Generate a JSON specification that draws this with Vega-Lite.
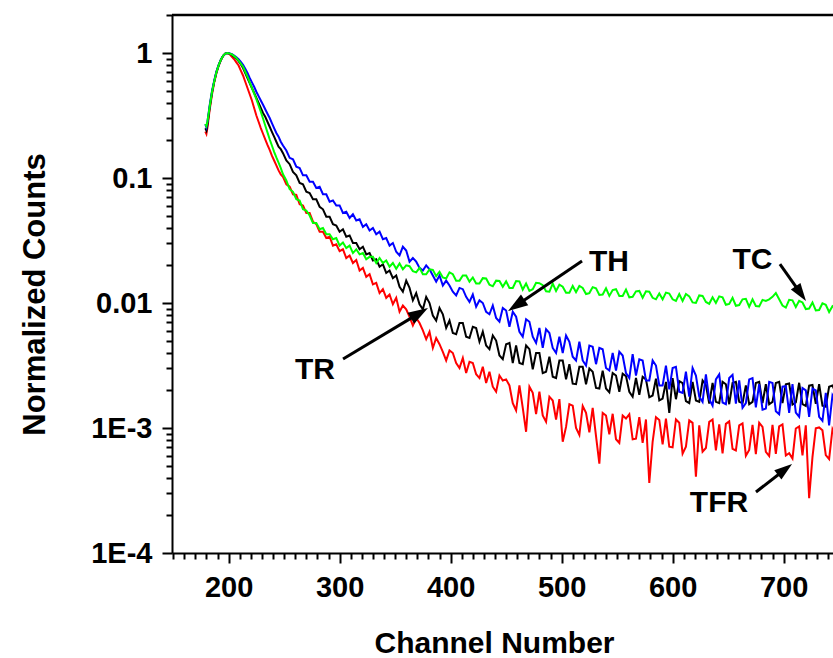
{
  "$schema": "https://vega.github.io/schema/vega-lite/v6.json",
  "width": 661,
  "height": 538,
  "autosize": {"type": "none"},
  "padding": {"left": 172, "top": 15, "right": 0, "bottom": 105},
  "background": "white",
  "config": {"view": {"stroke": null}},
  "datasets": {
    "curves": [
      {"c":179,"R":0.235,"B":0.27,"G":0.27,"K":0.25},
      {"c":180,"R":0.225,"B":0.255,"G":0.26,"K":0.24},
      {"c":181,"R":0.255,"B":0.285,"G":0.285,"K":0.27},
      {"c":183,"R":0.355,"B":0.385,"G":0.375,"K":0.37},
      {"c":185,"R":0.465,"B":0.495,"G":0.485,"K":0.48},
      {"c":187,"R":0.58,"B":0.6,"G":0.59,"K":0.59},
      {"c":189,"R":0.69,"B":0.71,"G":0.7,"K":0.7},
      {"c":191,"R":0.79,"B":0.8,"G":0.795,"K":0.795},
      {"c":193,"R":0.875,"B":0.885,"G":0.88,"K":0.88},
      {"c":195,"R":0.945,"B":0.95,"G":0.95,"K":0.95},
      {"c":197,"R":0.99,"B":0.99,"G":0.99,"K":0.99},
      {"c":199,"R":1,"B":1,"G":1,"K":1},
      {"c":201,"R":0.977,"B":0.993,"G":0.989,"K":0.989},
      {"c":203,"R":0.933,"B":0.977,"G":0.973,"K":0.966},
      {"c":205,"R":0.891,"B":0.955,"G":0.944,"K":0.933},
      {"c":207,"R":0.841,"B":0.923,"G":0.912,"K":0.902},
      {"c":209,"R":0.794,"B":0.891,"G":0.871,"K":0.861},
      {"c":211,"R":0.724,"B":0.851,"G":0.822,"K":0.813},
      {"c":213,"R":0.661,"B":0.804,"G":0.776,"K":0.759},
      {"c":215,"R":0.589,"B":0.75,"G":0.708,"K":0.692},
      {"c":217,"R":0.525,"B":0.692,"G":0.646,"K":0.631},
      {"c":219,"R":0.468,"B":0.631,"G":0.582,"K":0.575},
      {"c":221,"R":0.417,"B":0.582,"G":0.525,"K":0.525},
      {"c":223,"R":0.363,"B":0.537,"G":0.473,"K":0.479},
      {"c":225,"R":0.316,"B":0.49,"G":0.427,"K":0.437},
      {"c":227,"R":0.282,"B":0.452,"G":0.38,"K":0.398},
      {"c":229,"R":0.251,"B":0.417,"G":0.339,"K":0.363},
      {"c":231,"R":0.226,"B":0.385,"G":0.299,"K":0.331},
      {"c":233,"R":0.204,"B":0.355,"G":0.263,"K":0.309},
      {"c":235,"R":0.184,"B":0.327,"G":0.232,"K":0.282},
      {"c":237,"R":0.168,"B":0.302,"G":0.204,"K":0.257},
      {"c":239,"R":0.151,"B":0.275,"G":0.182,"K":0.234},
      {"c":241,"R":0.138,"B":0.251,"G":0.162,"K":0.214},
      {"c":243,"R":0.126,"B":0.229,"G":0.146,"K":0.195},
      {"c":245,"R":0.115,"B":0.214,"G":0.133,"K":0.178},
      {"c":247,"R":0.107,"B":0.195,"G":0.12,"K":0.17},
      {"c":249,"R":0.102,"B":0.182,"G":0.107,"K":0.158},
      {"c":252,"R":0.0891,"B":0.166,"G":0.0955,"K":0.138},
      {"c":255,"R":0.0851,"B":0.145,"G":0.0813,"K":0.129},
      {"c":258,"R":0.0741,"B":0.141,"G":0.0776,"K":0.112},
      {"c":261,"R":0.0733,"B":0.123,"G":0.0676,"K":0.105},
      {"c":264,"R":0.0617,"B":0.12,"G":0.0661,"K":0.0912},
      {"c":267,"R":0.0603,"B":0.105,"G":0.0562,"K":0.0891},
      {"c":270,"R":0.0525,"B":0.105,"G":0.055,"K":0.0776},
      {"c":273,"R":0.0525,"B":0.0933,"G":0.0501,"K":0.0759},
      {"c":276,"R":0.0447,"B":0.0933,"G":0.0437,"K":0.0676},
      {"c":279,"R":0.0427,"B":0.0832,"G":0.0437,"K":0.0676},
      {"c":282,"R":0.0372,"B":0.0851,"G":0.0389,"K":0.0589},
      {"c":285,"R":0.0372,"B":0.0741,"G":0.0398,"K":0.0562},
      {"c":288,"R":0.0331,"B":0.0741,"G":0.0355,"K":0.049},
      {"c":291,"R":0.0339,"B":0.0646,"G":0.0355,"K":0.049},
      {"c":294,"R":0.0288,"B":0.0661,"G":0.0324,"K":0.0427},
      {"c":297,"R":0.0295,"B":0.0603,"G":0.0331,"K":0.0417},
      {"c":300,"R":0.026,"B":0.0603,"G":0.0288,"K":0.0372},
      {"c":303,"R":0.0269,"B":0.0525,"G":0.0305,"K":0.0389},
      {"c":306,"R":0.0229,"B":0.0537,"G":0.0275,"K":0.0339},
      {"c":309,"R":0.024,"B":0.0479,"G":0.0288,"K":0.0347},
      {"c":312,"R":0.0209,"B":0.0513,"G":0.0251,"K":0.0302},
      {"c":315,"R":0.0221,"B":0.0457,"G":0.0269,"K":0.0302},
      {"c":318,"R":0.0182,"B":0.0468,"G":0.0245,"K":0.0269},
      {"c":321,"R":0.0191,"B":0.0407,"G":0.0251,"K":0.0282},
      {"c":324,"R":0.0162,"B":0.0427,"G":0.0224,"K":0.0245},
      {"c":327,"R":0.017,"B":0.038,"G":0.0234,"K":0.0251},
      {"c":330,"R":0.0141,"B":0.0398,"G":0.0234,"K":0.0219},
      {"c":333,"R":0.0145,"B":0.0355,"G":0.0209,"K":0.0224},
      {"c":336,"R":0.012,"B":0.0372,"G":0.0229,"K":0.0195},
      {"c":339,"R":0.0129,"B":0.0324,"G":0.0209,"K":0.0204},
      {"c":342,"R":0.011,"B":0.0331,"G":0.0219,"K":0.0174},
      {"c":345,"R":0.0117,"B":0.0288,"G":0.0195,"K":0.0182},
      {"c":348,"R":0.00977,"B":0.0302,"G":0.0209,"K":0.0158},
      {"c":351,"R":0.011,"B":0.0257,"G":0.0188,"K":0.0166},
      {"c":354,"R":0.00851,"B":0.024,"G":0.0207,"K":0.0135},
      {"c":357,"R":0.00955,"B":0.0282,"G":0.0186,"K":0.0123},
      {"c":360,"R":0.00891,"B":0.0263,"G":0.02,"K":0.0151},
      {"c":363,"R":0.00776,"B":0.0214,"G":0.0197,"K":0.0132},
      {"c":366,"R":0.00661,"B":0.0229,"G":0.018,"K":0.0105},
      {"c":369,"R":0.00759,"B":0.0214,"G":0.0176,"K":0.012},
      {"c":372,"R":0.00692,"B":0.0191,"G":0.0191,"K":0.00977},
      {"c":375,"R":0.00603,"B":0.0182,"G":0.017,"K":0.00891},
      {"c":378,"R":0.00513,"B":0.02,"G":0.017,"K":0.0112},
      {"c":381,"R":0.00589,"B":0.0186,"G":0.0186,"K":0.01},
      {"c":384,"R":0.00437,"B":0.0166,"G":0.0184,"K":0.00794},
      {"c":387,"R":0.00525,"B":0.0148,"G":0.0164,"K":0.00724},
      {"c":390,"R":0.00468,"B":0.0166,"G":0.0178,"K":0.00912},
      {"c":393,"R":0.00407,"B":0.0138,"G":0.016,"K":0.00813},
      {"c":396,"R":0.00347,"B":0.0151,"G":0.0157,"K":0.00631},
      {"c":399,"R":0.00417,"B":0.0138,"G":0.0176,"K":0.00724},
      {"c":402,"R":0.00398,"B":0.0123,"G":0.017,"K":0.00575},
      {"c":405,"R":0.00331,"B":0.0115,"G":0.0151,"K":0.00562},
      {"c":408,"R":0.00302,"B":0.0132,"G":0.0151,"K":0.00692},
      {"c":411,"R":0.00363,"B":0.0129,"G":0.0166,"K":0.00692},
      {"c":414,"R":0.00275,"B":0.0112,"G":0.0166,"K":0.00537},
      {"c":417,"R":0.00339,"B":0.0102,"G":0.0148,"K":0.00525},
      {"c":420,"R":0.00331,"B":0.0117,"G":0.016,"K":0.00646},
      {"c":423,"R":0.00269,"B":0.00933,"G":0.0143,"K":0.00631},
      {"c":426,"R":0.00251,"B":0.0105,"G":0.0143,"K":0.0049},
      {"c":429,"R":0.00309,"B":0.01,"G":0.0158,"K":0.00589},
      {"c":432,"R":0.00229,"B":0.00851,"G":0.0157,"K":0.00457},
      {"c":435,"R":0.00282,"B":0.00813,"G":0.014,"K":0.00427},
      {"c":438,"R":0.00214,"B":0.00955,"G":0.0136,"K":0.0055},
      {"c":441,"R":0.00195,"B":0.00759,"G":0.0151,"K":0.00501},
      {"c":444,"R":0.00263,"B":0.00708,"G":0.015,"K":0.0038},
      {"c":447,"R":0.0024,"B":0.00912,"G":0.0135,"K":0.00355},
      {"c":450,"R":0.00245,"B":0.00871,"G":0.0149,"K":0.00468},
      {"c":453,"R":0.00219,"B":0.00646,"G":0.0132,"K":0.00479},
      {"c":456,"R":0.00158,"B":0.00851,"G":0.0132,"K":0.00331},
      {"c":459,"R":0.00138,"B":0.00776,"G":0.015,"K":0.00457},
      {"c":462,"R":0.00219,"B":0.00589,"G":0.0149,"K":0.00331},
      {"c":465,"R":0.00145,"B":0.00537,"G":0.0128,"K":0.00324},
      {"c":468,"R":0.000933,"B":0.00741,"G":0.0143,"K":0.00457},
      {"c":471,"R":0.00214,"B":0.00708,"G":0.0125,"K":0.00427},
      {"c":474,"R":0.00191,"B":0.00537,"G":0.0129,"K":0.00295},
      {"c":477,"R":0.00129,"B":0.00479,"G":0.0145,"K":0.00398},
      {"c":480,"R":0.00195,"B":0.00631,"G":0.0144,"K":0.00398},
      {"c":483,"R":0.00126,"B":0.00437,"G":0.0139,"K":0.00275},
      {"c":486,"R":0.00112,"B":0.00617,"G":0.0124,"K":0.00282},
      {"c":489,"R":0.00178,"B":0.00575,"G":0.0123,"K":0.00372},
      {"c":492,"R":0.00166,"B":0.00437,"G":0.0143,"K":0.00257},
      {"c":495,"R":0.00117,"B":0.00398,"G":0.0125,"K":0.00251},
      {"c":498,"R":0.0017,"B":0.00537,"G":0.014,"K":0.00347},
      {"c":501,"R":0.000776,"B":0.00398,"G":0.0135,"K":0.00347},
      {"c":504,"R":0.00102,"B":0.0055,"G":0.0121,"K":0.00245},
      {"c":507,"R":0.00155,"B":0.0049,"G":0.0121,"K":0.00324},
      {"c":510,"R":0.00151,"B":0.00372,"G":0.0137,"K":0.00226},
      {"c":513,"R":0.001,"B":0.00347,"G":0.0122,"K":0.00224},
      {"c":516,"R":0.000881,"B":0.0049,"G":0.0137,"K":0.00309},
      {"c":519,"R":0.0015,"B":0.00347,"G":0.0132,"K":0.00309},
      {"c":522,"R":0.00132,"B":0.00316,"G":0.0118,"K":0.00224},
      {"c":525,"R":0.000923,"B":0.00457,"G":0.012,"K":0.00299},
      {"c":528,"R":0.00145,"B":0.00447,"G":0.0134,"K":0.00282},
      {"c":531,"R":0.000861,"B":0.00324,"G":0.0131,"K":0.00209},
      {"c":534,"R":0.000519,"B":0.00437,"G":0.0116,"K":0.00207},
      {"c":537,"R":0.00132,"B":0.00427,"G":0.0117,"K":0.00288},
      {"c":540,"R":0.00126,"B":0.00302,"G":0.0131,"K":0.00207},
      {"c":543,"R":0.000891,"B":0.00288,"G":0.0114,"K":0.00193},
      {"c":546,"R":0.0013,"B":0.00398,"G":0.0127,"K":0.00275},
      {"c":549,"R":0.000813,"B":0.00288,"G":0.0129,"K":0.00263},
      {"c":552,"R":0.000759,"B":0.00407,"G":0.0114,"K":0.00195},
      {"c":555,"R":0.00126,"B":0.0038,"G":0.0114,"K":0.00272},
      {"c":558,"R":0.00119,"B":0.00275,"G":0.0128,"K":0.0026},
      {"c":561,"R":0.00129,"B":0.00251,"G":0.0111,"K":0.00195},
      {"c":564,"R":0.000813,"B":0.00389,"G":0.0112,"K":0.00178},
      {"c":567,"R":0.000822,"B":0.00263,"G":0.0124,"K":0.00251},
      {"c":570,"R":0.00122,"B":0.00355,"G":0.0125,"K":0.00184},
      {"c":573,"R":0.000759,"B":0.00347,"G":0.011,"K":0.00257},
      {"c":576,"R":0.00117,"B":0.0024,"G":0.0124,"K":0.00245},
      {"c":579,"R":0.000363,"B":0.0024,"G":0.0123,"K":0.00176},
      {"c":582,"R":0.000776,"B":0.00347,"G":0.011,"K":0.00182},
      {"c":585,"R":0.00122,"B":0.00316,"G":0.0107,"K":0.00248},
      {"c":588,"R":0.00116,"B":0.00219,"G":0.0119,"K":0.00166},
      {"c":591,"R":0.000741,"B":0.00219,"G":0.0107,"K":0.00172},
      {"c":594,"R":0.00119,"B":0.00316,"G":0.0121,"K":0.00234},
      {"c":597,"R":0.000708,"B":0.00204,"G":0.0119,"K":0.00132},
      {"c":600,"R":0.0007,"B":0.00302,"G":0.0107,"K":0.00251},
      {"c":603,"R":0.00117,"B":0.00309,"G":0.0104,"K":0.0017},
      {"c":606,"R":0.0011,"B":0.00195,"G":0.0118,"K":0.00237},
      {"c":609,"R":0.000624,"B":0.00191,"G":0.0104,"K":0.00229},
      {"c":612,"R":0.000708,"B":0.00282,"G":0.0118,"K":0.00164},
      {"c":615,"R":0.00115,"B":0.00178,"G":0.0113,"K":0.00158},
      {"c":618,"R":0.0011,"B":0.00302,"G":0.0101,"K":0.00234},
      {"c":621,"R":0.000407,"B":0.00263,"G":0.01,"K":0.00166},
      {"c":624,"R":0.00105,"B":0.00178,"G":0.0115,"K":0.00162},
      {"c":627,"R":0.000646,"B":0.00162,"G":0.0114,"K":0.0024},
      {"c":630,"R":0.000692,"B":0.00269,"G":0.0102,"K":0.00221},
      {"c":633,"R":0.00112,"B":0.0017,"G":0.00986,"K":0.00157},
      {"c":636,"R":0.00117,"B":0.00151,"G":0.0111,"K":0.00229},
      {"c":639,"R":0.000661,"B":0.00245,"G":0.01,"K":0.00162},
      {"c":642,"R":0.00107,"B":0.00269,"G":0.0113,"K":0.00158},
      {"c":645,"R":0.000627,"B":0.0016,"G":0.0111,"K":0.00234},
      {"c":648,"R":0.00108,"B":0.00155,"G":0.00968,"K":0.00224},
      {"c":651,"R":0.00113,"B":0.00251,"G":0.00982,"K":0.00155},
      {"c":654,"R":0.000682,"B":0.00266,"G":0.011,"K":0.00229},
      {"c":657,"R":0.000662,"B":0.00157,"G":0.00951,"K":0.00234},
      {"c":660,"R":0.00105,"B":0.0024,"G":0.00964,"K":0.00162},
      {"c":663,"R":0.00109,"B":0.00145,"G":0.0107,"K":0.00158},
      {"c":666,"R":0.0006,"B":0.00158,"G":0.0108,"K":0.00219},
      {"c":669,"R":0.000668,"B":0.00245,"G":0.00933,"K":0.00155},
      {"c":672,"R":0.00106,"B":0.00251,"G":0.0107,"K":0.00162},
      {"c":675,"R":0.000619,"B":0.00146,"G":0.00946,"K":0.00229},
      {"c":678,"R":0.0011,"B":0.00224,"G":0.00938,"K":0.00234},
      {"c":681,"R":0.00102,"B":0.0014,"G":0.0106,"K":0.00158},
      {"c":684,"R":0.000644,"B":0.00143,"G":0.0104,"K":0.00224},
      {"c":687,"R":0.000597,"B":0.00234,"G":0.0107,"K":0.00155},
      {"c":690,"R":0.00106,"B":0.00229,"G":0.0112,"K":0.00162},
      {"c":693,"R":0.000621,"B":0.00136,"G":0.012,"K":0.00229},
      {"c":696,"R":0.00103,"B":0.00129,"G":0.0107,"K":0.00234},
      {"c":699,"R":0.00107,"B":0.00214,"G":0.00955,"K":0.00158},
      {"c":702,"R":0.000603,"B":0.00216,"G":0.0092,"K":0.00224},
      {"c":705,"R":0.000628,"B":0.00132,"G":0.0106,"K":0.00227},
      {"c":708,"R":0.000569,"B":0.00224,"G":0.0105,"K":0.00154},
      {"c":711,"R":0.000991,"B":0.00133,"G":0.00929,"K":0.0016},
      {"c":714,"R":0.00103,"B":0.00123,"G":0.0104,"K":0.0023},
      {"c":717,"R":0.000605,"B":0.00209,"G":0.0101,"K":0.00155},
      {"c":720,"R":0.00105,"B":0.002,"G":0.00895,"K":0.0015},
      {"c":723,"R":0.000275,"B":0.00123,"G":0.00904,"K":0.00218},
      {"c":726,"R":0.000585,"B":0.00207,"G":0.0101,"K":0.00221},
      {"c":729,"R":0.000995,"B":0.002,"G":0.00871,"K":0.00156},
      {"c":732,"R":0.00101,"B":0.00123,"G":0.00879,"K":0.00224},
      {"c":735,"R":0.000959,"B":0.00114,"G":0.00993,"K":0.00151},
      {"c":738,"R":0.000608,"B":0.00191,"G":0.00968,"K":0.00148},
      {"c":741,"R":0.000564,"B":0.00105,"G":0.00847,"K":0.00214},
      {"c":744,"R":0.000977,"B":0.00182,"G":0.00944,"K":0.00219},
      {"c":747,"R":0.00085,"B":0.0016,"G":0.009,"K":0.0019}
    ],
    "labels": [
      {"t":"TH","c":542.7,"v":0.01803},
      {"t":"TC","c":672,"v":0.0187},
      {"t":"TR","c":277.8,"v":0.002466},
      {"t":"TFR","c":641.8,"v":0.000213}
    ],
    "arrows": [
      {"name":"TH","c1":518.4,"v1":0.02168,"c2":459.2,"v2":0.00957},
      {"name":"TC","c1":696.7,"v1":0.0205,"c2":715.5,"v2":0.01189},
      {"name":"TR","c1":303.1,"v1":0.003565,"c2":371.9,"v2":0.0083},
      {"name":"TFR","c1":675.1,"v1":0.0003076,"c2":701.2,"v2":0.000466}
    ],
    "frame": [{"c":149,"v":2.014}]
  },
  "resolve": {"axis": {"x": "independent", "y": "independent"}},
  "layer": [
    {
      "data": {"name": "curves"},
      "mark": {"type": "line", "color": "#ff0000", "strokeWidth": 2, "clip": true},
      "encoding": {
        "x": {"field": "c", "type": "quantitative",
          "scale": {"domain": [149, 744.5], "nice": false, "zero": false},
          "axis": {"orient": "bottom", "values": [200, 300, 400, 500, 600, 700], "format": "d",
            "tickSize": 10, "tickWidth": 2, "tickColor": "#000", "domainColor": "#000", "domainWidth": 2,
            "labelFont": "Liberation Sans", "labelFontWeight": "bold", "labelFontSize": 29, "labelColor": "#000",
            "labelPadding": 10, "labelFlush": false, "labelOverlap": false, "grid": false,
            "title": "Channel Number", "titleFont": "Liberation Sans", "titleFontWeight": "bold",
            "titleFontSize": 30, "titleColor": "#000", "titleX": 322, "titleY": 99, "titleBaseline": "alphabetic"}},
        "y": {"field": "R", "type": "quantitative",
          "scale": {"type": "log", "domain": [0.0001, 2.014], "nice": false},
          "axis": {"orient": "left", "values": [0.0001, 0.001, 0.01, 0.1, 1],
            "labelExpr": "datum.value >= 0.005 ? format(datum.value, '~g') : (datum.value >= 0.0005 ? '1E-3' : '1E-4')",
            "tickSize": 10, "tickWidth": 2, "tickColor": "#000", "domainColor": "#000", "domainWidth": 2,
            "labelFont": "Liberation Sans", "labelFontWeight": "bold", "labelFontSize": 29, "labelColor": "#000",
            "labelPadding": 10, "labelFlush": false, "labelOverlap": false, "grid": false,
            "title": "Normalized Counts", "titleFont": "Liberation Sans", "titleFontWeight": "bold",
            "titleFontSize": 31, "titleColor": "#000", "titleAngle": 270, "titleX": -128, "titleY": 279,
            "titleBaseline": "alphabetic"}}
      }
    },
    {
      "data": {"name": "curves"},
      "mark": {"type": "line", "color": "#000000", "strokeWidth": 2, "clip": true},
      "encoding": {
        "x": {"field": "c", "type": "quantitative", "scale": {"domain": [149, 744.5], "nice": false, "zero": false}, "axis": null},
        "y": {"field": "K", "type": "quantitative", "scale": {"type": "log", "domain": [0.0001, 2.014], "nice": false}, "axis": null}
      }
    },
    {
      "data": {"name": "curves"},
      "mark": {"type": "line", "color": "#0000ff", "strokeWidth": 2, "clip": true},
      "encoding": {
        "x": {"field": "c", "type": "quantitative", "scale": {"domain": [149, 744.5], "nice": false, "zero": false}, "axis": null},
        "y": {"field": "B", "type": "quantitative", "scale": {"type": "log", "domain": [0.0001, 2.014], "nice": false}, "axis": null}
      }
    },
    {
      "data": {"name": "curves"},
      "mark": {"type": "line", "color": "#00ff00", "strokeWidth": 2, "clip": true},
      "encoding": {
        "x": {"field": "c", "type": "quantitative", "scale": {"domain": [149, 744.5], "nice": false, "zero": false}, "axis": null},
        "y": {"field": "G", "type": "quantitative", "scale": {"type": "log", "domain": [0.0001, 2.014], "nice": false}, "axis": null}
      }
    },
    {
      "data": {"name": "frame"},
      "mark": {"type": "point", "opacity": 0},
      "encoding": {
        "x": {"field": "c", "type": "quantitative",
          "scale": {"domain": [149, 744.5], "nice": false, "zero": false},
          "axis": {"orient": "bottom", "values": [150,160,170,180,190,210,220,230,240,250,260,270,280,290,310,320,330,340,350,360,370,380,390,410,420,430,440,450,460,470,480,490,510,520,530,540,550,560,570,580,590,610,620,630,640,650,660,670,680,690,710,720,730,740],
            "labels": false, "domain": false, "grid": false, "tickSize": 6, "tickWidth": 2, "tickColor": "#000", "title": null}},
        "y": {"field": "v", "type": "quantitative",
          "scale": {"type": "log", "domain": [0.0001, 2.014], "nice": false},
          "axis": {"orient": "left", "values": [0.0002,0.0003,0.0004,0.0005,0.0006,0.0007,0.0008,0.0009,0.002,0.003,0.004,0.005,0.006,0.007,0.008,0.009,0.02,0.03,0.04,0.05,0.06,0.07,0.08,0.09,0.2,0.3,0.4,0.5,0.6,0.7,0.8,0.9,2],
            "labels": false, "domain": false, "grid": false, "tickSize": 6, "tickWidth": 2, "tickColor": "#000", "title": null}}
      }
    },
    {
      "data": {"name": "frame"},
      "mark": {"type": "rule", "color": "#000000", "strokeWidth": 2.5},
      "encoding": {
        "y": {"field": "v", "type": "quantitative", "scale": {"type": "log", "domain": [0.0001, 2.014], "nice": false}, "axis": null}
      }
    },
    {
      "data": {"name": "arrows"},
      "mark": {"type": "rule", "color": "#000000", "strokeWidth": 3, "strokeCap": "butt"},
      "encoding": {
        "x": {"field": "c1", "type": "quantitative", "scale": {"domain": [149, 744.5], "nice": false, "zero": false}, "axis": null},
        "y": {"field": "v1", "type": "quantitative", "scale": {"type": "log", "domain": [0.0001, 2.014], "nice": false}, "axis": null},
        "x2": {"field": "c2"},
        "y2": {"field": "v2"}
      }
    },
    {
      "data": {"name": "arrows"},
      "transform": [{"filter": "datum.name == 'TH'"}],
      "mark": {"type": "point", "shape": "M0,-1L-0.65,1L0.65,1Z", "size": 400, "angle": 235.9, "filled": true, "color": "#000000", "opacity": 1},
      "encoding": {
        "x": {"field": "c2", "type": "quantitative", "scale": {"domain": [149, 744.5], "nice": false, "zero": false}, "axis": null},
        "y": {"field": "v2", "type": "quantitative", "scale": {"type": "log", "domain": [0.0001, 2.014], "nice": false}, "axis": null}
      }
    },
    {
      "data": {"name": "arrows"},
      "transform": [{"filter": "datum.name == 'TC'"}],
      "mark": {"type": "point", "shape": "M0,-1L-0.65,1L0.65,1Z", "size": 324, "angle": 144.9, "filled": true, "color": "#000000", "opacity": 1},
      "encoding": {
        "x": {"field": "c2", "type": "quantitative", "scale": {"domain": [149, 744.5], "nice": false, "zero": false}, "axis": null},
        "y": {"field": "v2", "type": "quantitative", "scale": {"type": "log", "domain": [0.0001, 2.014], "nice": false}, "axis": null}
      }
    },
    {
      "data": {"name": "arrows"},
      "transform": [{"filter": "datum.name == 'TR'"}],
      "mark": {"type": "point", "shape": "M0,-1L-0.65,1L0.65,1Z", "size": 400, "angle": 59.0, "filled": true, "color": "#000000", "opacity": 1},
      "encoding": {
        "x": {"field": "c2", "type": "quantitative", "scale": {"domain": [149, 744.5], "nice": false, "zero": false}, "axis": null},
        "y": {"field": "v2", "type": "quantitative", "scale": {"type": "log", "domain": [0.0001, 2.014], "nice": false}, "axis": null}
      }
    },
    {
      "data": {"name": "arrows"},
      "transform": [{"filter": "datum.name == 'TFR'"}],
      "mark": {"type": "point", "shape": "M0,-1L-0.65,1L0.65,1Z", "size": 324, "angle": 52.1, "filled": true, "color": "#000000", "opacity": 1},
      "encoding": {
        "x": {"field": "c2", "type": "quantitative", "scale": {"domain": [149, 744.5], "nice": false, "zero": false}, "axis": null},
        "y": {"field": "v2", "type": "quantitative", "scale": {"type": "log", "domain": [0.0001, 2.014], "nice": false}, "axis": null}
      }
    },
    {
      "data": {"name": "labels"},
      "mark": {"type": "text", "font": "Liberation Sans", "fontWeight": "bold", "fontSize": 30, "color": "#000000", "align": "center", "baseline": "alphabetic"},
      "encoding": {
        "x": {"field": "c", "type": "quantitative", "scale": {"domain": [149, 744.5], "nice": false, "zero": false}, "axis": null},
        "y": {"field": "v", "type": "quantitative", "scale": {"type": "log", "domain": [0.0001, 2.014], "nice": false}, "axis": null},
        "text": {"field": "t"}
      }
    }
  ]
}
